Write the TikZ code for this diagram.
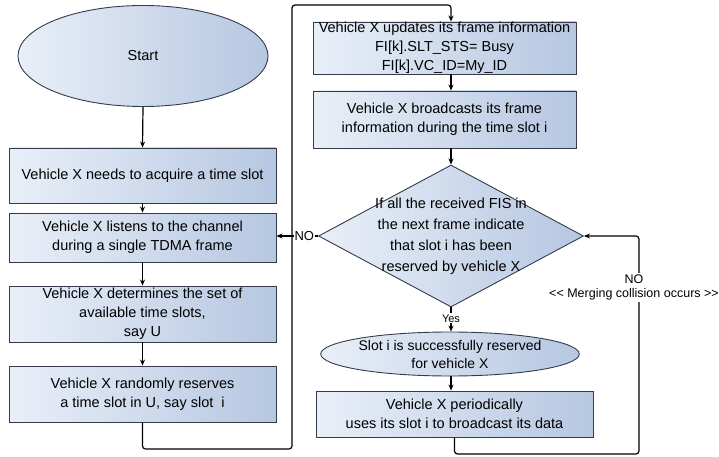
\documentclass[tikz,border=0pt]{standalone}
\usepackage{fontspec}
\setmainfont{Liberation Sans}
\usetikzlibrary{shapes.geometric,arrows.meta}
\definecolor{lightfill}{RGB}{233,239,248}
\definecolor{darkfill}{RGB}{182,199,225}
\definecolor{edgecol}{RGB}{52,60,76}
\tikzset{
  boxbase/.style={draw=edgecol, line width=0.9pt, left color=lightfill, right color=darkfill,
    inner sep=0pt, align=center, font=\fontsize{14.5}{19}\selectfont},
  procbox/.style={boxbase, rectangle},
  ovalbox/.style={boxbase, ellipse},
  decbox/.style={boxbase, diamond},
  arr/.style={line width=1.2pt, draw=black, -{Stealth[length=6pt,width=5pt]}},
  lbl/.style={fill=white, inner sep=1pt, align=center}
}
\begin{document}
\begin{tikzpicture}[x=1pt,y=-1pt]
\useasboundingbox (0,0) rectangle (719,457);
% left column
\node[ovalbox, minimum width=250pt, minimum height=101pt] (start) at (143,56) {Start};
\node[procbox, minimum width=267pt, minimum height=55pt] (b1) at (142.5,175.5) {Vehicle X needs to acquire a time slot};
\node[procbox, minimum width=267pt, minimum height=49pt] (b2) at (142.5,237.5) {Vehicle X listens to the channel\\during a single TDMA frame};
\node[procbox, minimum width=267pt, minimum height=56pt] (b3) at (142.5,314) {Vehicle X determines the set of\\available time slots,\\say U};
\node[procbox, minimum width=267pt, minimum height=56pt] (b4) at (142.5,394) {Vehicle X randomly reserves\\a time slot in U, say slot\ \ i};
% right column
\node[procbox, minimum width=263pt, minimum height=52pt] (b5) at (444.5,48) {Vehicle X updates its frame information\\FI[k].SLT\_STS= Busy\\FI[k].VC\_ID=My\_ID};
\node[procbox, minimum width=263pt, minimum height=57pt] (b6) at (444.5,119.5) {Vehicle X broadcasts its frame\\information during the time slot i};
\node[decbox, minimum width=265pt, minimum height=142pt] (dia) at (451,236) {};
\node[align=center, font=\fontsize{14.5}{21}\selectfont] (diatext) at (451,236) {If all the received FIS in\\the next frame indicate\\that slot i has been\\reserved by vehicle X};
\node[ovalbox, minimum width=250pt, minimum height=44pt, font=\fontsize{14}{18}\selectfont] (e2) at (450,354) {Slot i is successfully reserved\\for vehicle X};
\node[procbox, minimum width=277pt, minimum height=46pt] (b7) at (454.5,414) {Vehicle X periodically\\uses its slot i to broadcast its data};
% bend coordinates
\coordinate (c1) at (292,449);
\coordinate (c2) at (292,5);
\coordinate (c3) at (639,454);
\coordinate (c4) at (639,236);
% connectors
\draw[arr] (start.south) -- (b1.north);
\draw[arr] (b1.south) -- (b2.north);
\draw[arr] (b2.south) -- (b3.north);
\draw[arr] (b3.south) -- (b4.north);
\draw[arr, rounded corners=3pt] (b4.south) |- (c1) -- (c2) -| (b5.north -| dia.north);
\draw[arr] (b5.south -| dia.north) -- (b6.north -| dia.north);
\draw[arr] (b6.south -| dia.north) -- (dia.north);
\draw[arr] (dia.west) -- node[lbl, pos=0.33, font=\fontsize{13}{15}\selectfont] {NO} (dia.west -| b2.east);
\draw[arr] (dia.south) -- node[lbl, pos=0.45, font=\fontsize{11}{13}\selectfont] {Yes} (e2.north -| dia.south);
\draw[arr] (e2.south -| dia.south) -- (b7.north -| dia.south);
\draw[arr, rounded corners=3pt] (b7.south) |- (c3) -- (c4) -- (dia.east);
\node[lbl, font=\fontsize{12.5}{14}\selectfont, inner sep=2pt] (mlbl) at (634,287.5) {NO\\{<}{<} Merging collision occurs {>}{>}};
\end{tikzpicture}
\end{document}
